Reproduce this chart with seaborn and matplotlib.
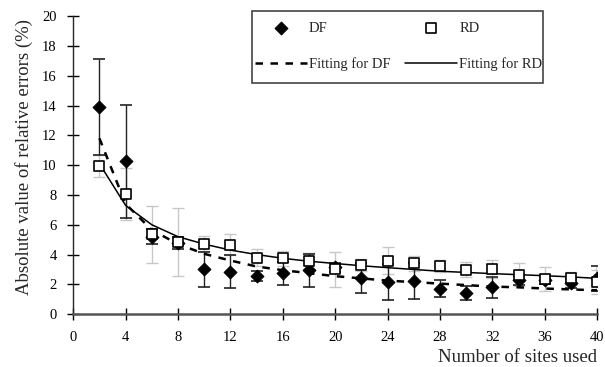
import matplotlib
matplotlib.use("Agg")
import matplotlib.pyplot as plt
import matplotlib.patches as mpatches
import seaborn as sns
import pandas as pd

# number of sites used
sites = [2, 4, 6, 8, 10, 12, 14, 16, 18, 20, 22, 24, 26, 28, 30, 32, 34, 36, 38, 40]

# measured absolute relative errors (%)
df_err = [13.9, 10.25, 5.2, 4.8, 3.0, 2.84, 2.55, 2.73, 2.95, 3.15, 2.4, 2.15, 2.24, 1.72, 1.43, 1.79, 2.28, 2.3, 2.06, 2.4]
rd_err = [9.95, 8.05, 5.35, 4.85, 4.74, 4.65, 3.8, 3.74, 3.58, 3.0, 3.31, 3.58, 3.4, 3.22, 2.97, 3.04, 2.66, 2.35, 2.4, 2.13]

# error bar half-widths
df_sd = [3.2, 3.8, 0.5, 0.4, 1.2, 1.1, 0.35, 0.75, 1.1, 0.3, 1.0, 1.2, 1.2, 0.6, 0.45, 0.7, 0.3, 0.3, 0.3, 0.85]
rd_sd = [0.75, 1.75, 1.9, 2.3, 0.5, 0.7, 0.6, 0.5, 0.55, 1.2, 0.4, 0.9, 0.5, 0.4, 0.5, 0.6, 0.8, 0.8, 0.45, 0.8]

# fitted curves
fit_df = [11.8, 7.4, 5.65, 4.7, 4.05, 3.6, 3.2, 2.95, 2.75, 2.55, 2.4, 2.25, 2.15, 2.05, 1.95, 1.85, 1.8, 1.72, 1.66, 1.6]
fit_rd = [10.1, 7.3, 6.0, 5.2, 4.7, 4.3, 4.0, 3.75, 3.55, 3.4, 3.25, 3.12, 3.0, 2.88, 2.8, 2.72, 2.65, 2.58, 2.5, 2.4]

data = pd.DataFrame({'sites': sites, 'DF': df_err, 'RD': rd_err,
                     'df_sd': df_sd, 'rd_sd': rd_sd,
                     'fit_df': fit_df, 'fit_rd': fit_rd})

sns.set_style('ticks')
plt.rcParams['font.family'] = ['Liberation Serif', 'DejaVu Serif']

fig = plt.figure(figsize=(6.05, 3.67), dpi=100)
ax = fig.add_axes([0.121, 0.144, 0.866, 0.812])

# error bars
ax.errorbar(data['sites'], data['RD'], yerr=data['rd_sd'], fmt='none',
            ecolor='#c8c8c8', elinewidth=1, capsize=4, capthick=1, zorder=1)
ax.errorbar(data['sites'], data['DF'], yerr=data['df_sd'], fmt='none',
            ecolor='#222222', elinewidth=1, capsize=4, capthick=1.2, zorder=1)

# fitted curves
sns.lineplot(data=data, x='sites', y='fit_df', ax=ax, color='black',
             linestyle=(0, (3, 3)), linewidth=1.8, label='Fitting for DF', zorder=2)
sns.lineplot(data=data, x='sites', y='fit_rd', ax=ax, color='black',
             linewidth=1.1, label='Fitting for RD', zorder=2)

# measured points
sns.scatterplot(data=data, x='sites', y='DF', ax=ax, marker='D', s=45,
                color='black', edgecolor='black', label='DF', zorder=3)
sns.scatterplot(data=data, x='sites', y='RD', ax=ax, marker='s', s=55,
                facecolor='white', edgecolor='black', linewidth=1.2, label='RD', zorder=4)

ax.set_xlim(0, 40)
ax.set_ylim(0, 20)
ax.set_xticks(range(0, 41, 4))
ax.set_yticks(range(0, 21, 2))
ax.tick_params(direction='inout', length=8, width=1, labelsize=10.5, colors='black')
ax.tick_params(axis='x', pad=8)
ax.tick_params(axis='y', pad=8)
sns.despine(ax=ax)
ax.spines['left'].set_linewidth(1)
ax.spines['bottom'].set_linewidth(1.8)
ax.spines['bottom'].set_color('#555555')
ax.set_xlabel('Number of sites used', fontsize=13.5, loc='right', labelpad=4)
ax.set_ylabel('Absolute value of relative errors (%)', fontsize=13.5)
ax.yaxis.set_label_coords(-0.076, 0.527)

handles, labels = ax.get_legend_handles_labels()
order = [labels.index(k) for k in ['DF', 'Fitting for DF', 'RD', 'Fitting for RD']]
leg = ax.legend([handles[i] for i in order], [labels[i] for i in order],
                ncol=2, loc='upper left', bbox_to_anchor=(0.4215, 0.941),
                bbox_transform=fig.transFigure, frameon=False,
                fontsize=10.5, handlelength=3.55, handletextpad=0.15,
                columnspacing=1.0, labelspacing=1.55, borderpad=0,
                borderaxespad=0)

# legend frame
fig.patches.append(mpatches.Rectangle((0.4165, 0.7747), 0.481, 0.196,
                                      transform=fig.transFigure, fill=False,
                                      edgecolor='#444444', linewidth=1.2))

fig.savefig('out.png', dpi=100)
